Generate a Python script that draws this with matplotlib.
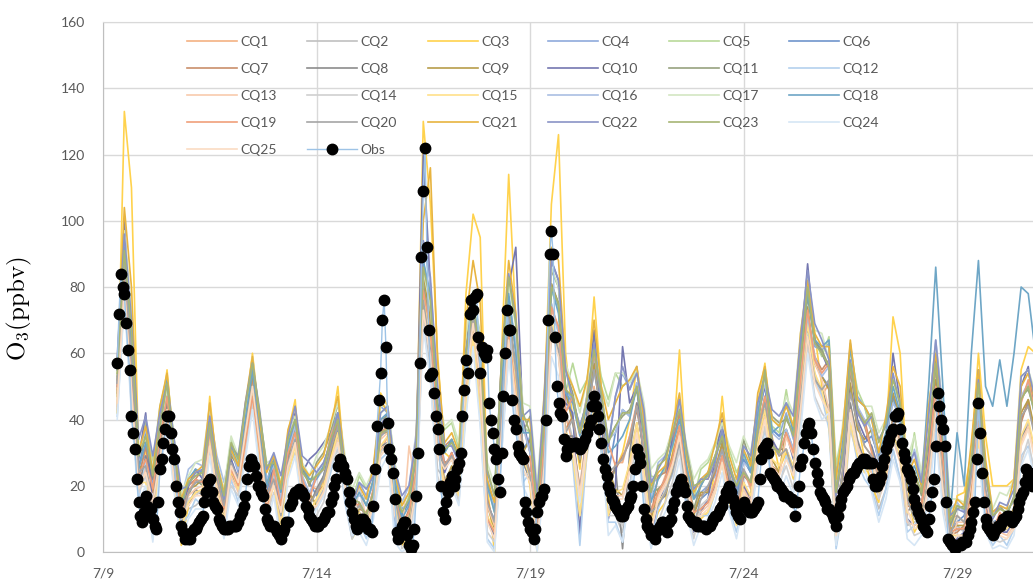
import pandas as pd
import matplotlib
matplotlib.use("Agg")
import matplotlib.pyplot as plt

plt.rcParams['font.family'] = ['Lato', 'DejaVu Sans']
plt.rcParams['mathtext.fontset'] = 'cm'

# time axis
obs_start = '2019-07-09 08:00'    # hourly obs
model_start = '2019-07-09 08:00'  # 4-hourly model output
x_end = '2019-07-30 18:40'
xtick_labels = ['7/9', '7/14', '7/19', '7/24', '7/29']
yticks = [0, 20, 40, 60, 80, 100, 120, 140, 160]

# observed O3 (ppbv), hourly
obs = [57, 72, 84, 80, 78, 69, 61, 55, 41, 36, 31, 22, 15, 11, 9, 12,
       17, 14, 11, 13, 10, 8, 7, 15, 25, 28, 33, 37, 41, 41, 36, 31, 28, 20, 15, 12, 8, 6, 4, 5,
       4, 4, 6, 7, 7, 8, 9, 10, 11, 15, 18, 21, 22, 18, 15, 14, 13, 10, 9, 8, 7, 7, 7, 8,
       8, 8, 8, 8, 9, 11, 12, 14, 17, 22, 26, 28, 27, 26, 23, 20, 20, 18, 17, 13, 10, 9, 8, 8,
       8, 7, 6, 5, 4, 6, 7, 9, 9, 14, 15, 17, 18, 18, 19, 18, 18, 17, 14, 13, 11, 10, 9, 8,
       8, 8, 9, 9, 10, 11, 12, 12, 15, 17, 20, 22, 26, 28, 27, 26, 24, 22, 18, 15, 12, 10, 8, 7,
       8, 10, 10, 9, 8, 7, 7, 6, 14, 25, 38, 46, 54, 70, 76, 62, 39, 31, 28, 24, 16, 6, 4, 6,
       8, 9, 9, 5, 2, 1, 2, 7, 17, 30, 57, 89, 109, 122, 92, 67, 53, 54, 48, 41, 37, 31, 20, 12,
       10, 15, 18, 21, 23, 20, 22, 25, 27, 30, 41, 49, 58, 54, 72, 76, 73, 77, 78, 65, 54, 62, 60, 59,
       61, 45, 40, 36, 31, 28, 22, 18, 30, 47, 60, 73, 67, 67, 46, 40, 37, 32, 30, 29, 28, 15, 12, 9,
       7, 6, 4, 7, 12, 15, 17, 17, 19, 40, 70, 90, 97, 90, 65, 50, 45, 42, 41, 34, 29, 31, 33, 32,
       32, 33, 33, 32, 31, 32, 33, 34, 36, 38, 40, 44, 47, 44, 41, 37, 33, 28, 25, 23, 20, 18, 16, 15,
       14, 13, 12, 11, 11, 12, 13, 14, 16, 17, 20, 25, 31, 29, 27, 20, 13, 10, 8, 7, 5, 5, 4, 6,
       7, 8, 9, 9, 7, 6, 9, 10, 13, 15, 18, 20, 21, 22, 20, 18, 14, 11, 10, 9, 9, 9, 8, 8,
       8, 8, 8, 7, 8, 8, 9, 10, 11, 11, 12, 13, 14, 16, 18, 19, 20, 18, 16, 14, 12, 11, 10, 14,
       15, 14, 13, 12, 12, 12, 13, 14, 15, 22, 28, 31, 32, 33, 30, 24, 23, 22, 21, 20, 20, 19, 18, 17,
       17, 17, 16, 16, 15, 11, 15, 20, 26, 28, 33, 36, 38, 39, 36, 31, 27, 24, 21, 18, 17, 16, 15, 13,
       13, 12, 11, 10, 8, 11, 14, 16, 18, 19, 20, 22, 23, 24, 24, 25, 26, 27, 27, 28, 28, 27, 27, 27,
       27, 22, 20, 20, 21, 23, 26, 28, 31, 33, 34, 36, 37, 41, 41, 42, 37, 33, 30, 28, 25, 24, 22, 19,
       16, 14, 12, 11, 10, 8, 7, 6, 10, 14, 18, 22, 32, 48, 44, 40, 37, 32, 15, 4, 3, 2, 2, 1,
       2, 2, 2, 3, 3, 3, 5, 7, 9, 12, 15, 28, 45, 36, 24, 15, 10, 8, 7, 6, 5, 6, 7, 8,
       8, 9, 10, 10, 11, 11, 10, 9, 10, 11, 13, 15, 17, 18, 21, 25, 23, 22, 20, 24]

# model O3 (ppbv), every 4 h
CQ1 = [49, 86, 60, 23, 31, 19, 34, 44, 28, 11, 16, 17, 19, 35, 18, 9, 26, 23, 38, 52, 33, 16,
       29, 18, 32, 41, 26, 20, 19, 21, 30, 39, 23, 10, 12, 7, 16, 30, 35, 12, 9, 12, 24, 82, 66, 37,
       27, 28, 25, 55, 72, 52, 19, 14, 49, 77, 60, 38, 30, 8, 35, 73, 68, 41, 33, 20, 36, 50, 35, 16,
       27, 27, 35, 45, 29, 13, 17, 23, 29, 38, 21, 11, 22, 22, 29, 36, 25, 19, 25, 19, 38, 45, 33, 29,
       31, 24, 46, 68, 52, 47, 51, 11, 26, 49, 39, 32, 29, 23, 27, 41, 33, 16, 22, 19, 36, 55, 34, 10,
       11, 9, 23, 44, 19, 7, 9, 10, 13, 41, 44, 36]
CQ2 = [45, 82, 52, 21, 27, 13, 30, 41, 24, 8, 13, 14, 16, 32, 15, 6, 24, 19, 33, 48, 30, 13,
       24, 16, 31, 36, 23, 16, 15, 19, 28, 35, 19, 8, 10, 9, 14, 32, 33, 14, 3, 5, 18, 71, 55, 25,
       22, 25, 20, 48, 67, 48, 11, 4, 37, 65, 49, 28, 28, 10, 33, 75, 66, 43, 34, 19, 35, 49, 36, 17,
       11, 6, 20, 34, 17, 5, 14, 18, 24, 33, 18, 8, 14, 16, 21, 30, 17, 10, 24, 20, 37, 46, 32, 30,
       29, 26, 44, 66, 54, 47, 44, 7, 19, 44, 33, 28, 21, 13, 19, 31, 22, 8, 9, 10, 23, 44, 21, 4,
       8, 6, 18, 38, 14, 5, 7, 6, 9, 34, 39, 29]
CQ3 = [42, 133, 110, 30, 30, 22, 40, 55, 30, 2, 14, 18, 18, 47, 25, 8, 24, 20, 42, 60, 40, 14,
       24, 10, 36, 46, 20, 12, 16, 22, 36, 50, 24, 4, 8, 6, 16, 48, 44, 12, 2, 6, 28, 130, 105, 60,
       30, 28, 22, 78, 102, 95, 20, 0, 60, 114, 70, 30, 20, 0, 45, 105, 126, 60, 40, 25, 48, 77, 50, 20,
       25, 30, 40, 56, 35, 5, 12, 15, 30, 61, 25, 6, 10, 12, 25, 47, 25, 10, 18, 15, 45, 57, 35, 25,
       30, 22, 55, 82, 66, 50, 40, 2, 20, 55, 40, 28, 20, 15, 35, 71, 60, 22, 6, 10, 30, 62, 30, 2,
       17, 18, 30, 60, 35, 20, 20, 20, 22, 55, 62, 60]
CQ4 = [55, 94, 64, 27, 29, 21, 32, 46, 26, 13, 21, 23, 24, 40, 25, 17, 31, 24, 40, 56, 37, 22,
       25, 15, 30, 37, 22, 17, 24, 27, 33, 40, 26, 14, 21, 17, 25, 44, 42, 25, 13, 15, 31, 88, 74, 44,
       31, 33, 28, 60, 75, 60, 14, 10, 45, 70, 56, 30, 35, 13, 40, 80, 74, 49, 46, 38, 45, 62, 48, 32,
       47, 54, 49, 56, 41, 21, 22, 25, 32, 41, 26, 16, 18, 20, 23, 33, 21, 14, 28, 24, 41, 50, 37, 35,
       42, 34, 59, 79, 62, 61, 63, 24, 36, 63, 47, 44, 36, 28, 34, 46, 40, 20, 15, 13, 29, 51, 27, 7,
       14, 13, 27, 51, 24, 11, 13, 12, 16, 46, 50, 41]
CQ5 = [53, 92, 66, 29, 39, 27, 44, 53, 34, 17, 22, 24, 23, 41, 24, 18, 34, 27, 43, 57, 41, 25,
       27, 20, 34, 39, 24, 22, 23, 26, 34, 41, 25, 15, 23, 19, 23, 42, 44, 27, 11, 17, 29, 85, 76, 46,
       37, 39, 31, 64, 77, 66, 21, 12, 51, 75, 63, 38, 36, 14, 41, 79, 73, 48, 57, 48, 52, 66, 53, 46,
       54, 50, 52, 54, 43, 23, 22, 25, 32, 41, 26, 16, 25, 27, 32, 37, 31, 24, 29, 25, 42, 55, 38, 36,
       49, 36, 57, 80, 64, 59, 65, 26, 38, 61, 49, 44, 36, 28, 34, 46, 40, 20, 36, 21, 43, 62, 41, 13,
       14, 13, 27, 51, 24, 11, 13, 12, 16, 46, 50, 41]
CQ6 = [51, 89, 57, 25, 36, 23, 37, 48, 31, 14, 18, 21, 21, 37, 22, 14, 28, 21, 36, 50, 35, 18,
       28, 19, 33, 40, 25, 21, 17, 23, 32, 37, 21, 12, 14, 11, 18, 35, 37, 17, 11, 15, 31, 87, 73, 46,
       25, 30, 23, 53, 70, 55, 15, 9, 44, 71, 55, 31, 34, 12, 39, 81, 75, 50, 40, 28, 40, 55, 42, 24,
       36, 43, 41, 51, 37, 16, 18, 22, 28, 37, 22, 12, 16, 18, 25, 31, 23, 16, 28, 24, 41, 50, 37, 35,
       37, 31, 51, 73, 57, 53, 50, 12, 25, 50, 38, 33, 35, 29, 33, 47, 39, 21, 14, 14, 28, 50, 28, 6,
       9, 11, 21, 46, 17, 9, 10, 9, 12, 40, 45, 35]
CQ7 = [48, 87, 59, 22, 32, 18, 35, 46, 29, 10, 20, 22, 25, 39, 26, 16, 27, 21, 38, 53, 32, 18,
       21, 10, 28, 35, 18, 15, 18, 20, 32, 40, 24, 9, 15, 10, 19, 36, 38, 16, 7, 13, 26, 79, 69, 39,
       32, 34, 27, 61, 76, 59, 16, 8, 43, 72, 54, 32, 24, 4, 29, 69, 60, 37, 41, 29, 39, 56, 43, 23,
       25, 29, 33, 43, 31, 11, 23, 24, 33, 42, 25, 17, 17, 19, 24, 32, 22, 15, 21, 15, 33, 43, 26, 24,
       35, 31, 53, 71, 59, 55, 58, 17, 30, 57, 42, 40, 31, 21, 29, 39, 35, 14, 13, 15, 27, 49, 29, 5,
       6, 8, 16, 40, 12, 7, 11, 8, 11, 39, 46, 34]
CQ8 = [47, 84, 50, 19, 29, 22, 32, 45, 26, 12, 14, 19, 17, 33, 20, 11, 23, 20, 34, 47, 31, 12,
       22, 11, 27, 34, 19, 14, 19, 23, 30, 38, 23, 11, 11, 9, 16, 32, 33, 12, 4, 8, 20, 74, 62, 30,
       27, 28, 23, 55, 70, 53, 10, 5, 38, 66, 48, 27, 22, 6, 27, 67, 62, 35, 35, 18, 34, 48, 37, 18,
       26, 1, 30, 45, 29, 12, 15, 17, 25, 34, 19, 9, 13, 15, 20, 29, 18, 11, 23, 21, 36, 47, 31, 31,
       31, 25, 44, 68, 52, 49, 43, 6, 20, 45, 34, 27, 24, 18, 22, 36, 29, 12, 15, 13, 28, 51, 27, 5,
       7, 7, 17, 39, 13, 6, 6, 7, 10, 35, 38, 30]
CQ9 = [52, 90, 60, 26, 25, 15, 31, 43, 22, 10, 19, 20, 22, 38, 21, 13, 29, 26, 42, 54, 39, 20,
       26, 14, 29, 38, 21, 18, 14, 18, 29, 36, 18, 7, 13, 12, 17, 36, 36, 18, 6, 10, 27, 84, 70, 40,
       21, 26, 19, 49, 68, 47, 14, 7, 45, 73, 54, 30, 34, 12, 41, 81, 75, 48, 39, 27, 41, 57, 41, 25,
       19, 17, 27, 39, 23, 9, 19, 21, 29, 38, 23, 11, 18, 18, 25, 33, 21, 14, 19, 17, 31, 43, 28, 24,
       37, 29, 53, 74, 57, 53, 49, 13, 24, 51, 37, 34, 37, 27, 35, 48, 41, 19, 16, 13, 29, 52, 29, 7,
       8, 8, 18, 40, 14, 7, 11, 10, 13, 42, 46, 36]
CQ10 = [55, 100, 60, 28, 42, 12, 35, 50, 25, 8, 20, 25, 22, 42, 20, 10, 28, 22, 40, 58, 35, 12,
        28, 8, 30, 42, 24, 28, 30, 33, 36, 42, 22, 6, 12, 8, 18, 38, 42, 8, 3, 5, 30, 120, 80, 36,
        24, 30, 22, 60, 78, 58, 10, 4, 50, 80, 92, 40, 30, 4, 40, 88, 82, 45, 42, 5, 42, 67, 40, 10,
        20, 62, 45, 50, 28, 4, 14, 20, 35, 46, 20, 6, 12, 16, 28, 40, 22, 10, 20, 15, 44, 50, 34, 30,
        36, 28, 60, 87, 64, 60, 55, 6, 20, 56, 40, 35, 32, 25, 32, 60, 45, 10, 8, 10, 30, 58, 30, 2,
        4, 6, 30, 55, 15, 4, 6, 6, 10, 50, 56, 40]
CQ11 = [56, 92, 63, 29, 34, 25, 39, 50, 29, 16, 17, 22, 20, 36, 23, 15, 30, 26, 40, 54, 39, 21,
        29, 20, 32, 41, 26, 20, 27, 30, 36, 45, 27, 17, 19, 14, 22, 40, 41, 20, 9, 10, 26, 81, 67, 37,
        30, 34, 29, 61, 74, 61, 21, 14, 51, 77, 61, 36, 41, 17, 46, 85, 80, 55, 48, 36, 47, 60, 46, 34,
        38, 41, 43, 49, 35, 18, 19, 21, 27, 36, 23, 13, 20, 24, 29, 34, 27, 19, 34, 27, 45, 53, 41, 39,
        40, 36, 57, 77, 64, 61, 56, 19, 32, 55, 44, 38, 31, 23, 29, 41, 33, 14, 24, 17, 34, 57, 36, 8,
        13, 14, 28, 50, 25, 10, 14, 11, 17, 47, 49, 42]
CQ12 = [41, 77, 45, 16, 27, 4, 29, 41, 24, 8, 11, 16, 14, 30, 17, 6, 22, 15, 31, 44, 27, 9,
        23, 3, 26, 35, 20, 13, 13, 17, 24, 33, 15, 4, 9, 4, 13, 28, 30, 7, 4, 6, 22, 76, 60, 32,
        18, 21, 17, 42, 65, 40, 4, 1, 32, 60, 42, 21, 24, 4, 27, 69, 62, 35, 27, 2, 31, 44, 30, 9,
        9, 3, 20, 32, 19, 3, 13, 19, 23, 34, 17, 7, 11, 11, 18, 27, 13, 6, 16, 13, 28, 36, 23, 19,
        29, 24, 46, 66, 52, 47, 37, 1, 14, 39, 27, 22, 19, 11, 19, 31, 22, 6, 8, 11, 22, 45, 20, 3,
        3, 5, 13, 34, 7, 2, 5, 2, 7, 29, 32, 24]
CQ13 = [44, 81, 50, 18, 25, 12, 29, 40, 22, 7, 17, 19, 20, 36, 21, 12, 23, 18, 32, 49, 29, 11,
        21, 9, 26, 33, 18, 12, 14, 18, 27, 34, 18, 6, 20, 10, 17, 34, 36, 15, 4, 32, 20, 74, 60, 30,
        21, 24, 19, 47, 66, 47, 14, 8, 43, 70, 54, 30, 22, 4, 27, 67, 60, 35, 33, 18, 34, 48, 35, 15,
        17, 17, 25, 37, 23, 7, 17, 21, 27, 36, 21, 10, 12, 14, 19, 28, 17, 9, 19, 15, 31, 41, 26, 23,
        35, 29, 51, 71, 57, 52, 43, 5, 18, 43, 32, 27, 24, 16, 22, 34, 27, 9, 8, 9, 22, 43, 20, 2,
        9, 9, 21, 44, 17, 6, 6, 5, 8, 33, 38, 28]
CQ14 = [43, 79, 43, 18, 23, 7, 28, 38, 21, 5, 16, 17, 19, 33, 18, 9, 20, 17, 29, 46, 25, 11,
        18, 6, 25, 30, 17, 10, 11, 15, 26, 31, 17, 4, 20, 7, 14, 30, 33, 14, 1, 3, 16, 69, 53, 23,
        16, 23, 15, 44, 63, 42, 6, 3, 30, 62, 40, 23, 24, 6, 29, 67, 60, 37, 29, 11, 29, 42, 32, 11,
        11, 8, 18, 34, 19, 5, 9, 15, 21, 31, 15, 4, 14, 16, 21, 28, 19, 10, 18, 11, 26, 38, 21, 21,
        26, 19, 39, 63, 47, 42, 39, 3, 12, 37, 29, 24, 26, 16, 24, 34, 29, 10, 5, 6, 17, 39, 15, 2,
        5, 3, 11, 32, 9, 4, 3, 4, 7, 27, 34, 22]
CQ15 = [47, 85, 53, 21, 21, 9, 26, 40, 19, 7, 15, 18, 19, 35, 19, 10, 25, 19, 34, 49, 30, 14,
        20, 8, 23, 32, 15, 12, 16, 20, 28, 36, 20, 9, 12, 8, 15, 32, 35, 14, 6, 8, 22, 77, 63, 33,
        18, 22, 17, 44, 65, 42, 11, 6, 39, 67, 49, 28, 23, 6, 29, 70, 62, 37, 29, 11, 31, 44, 32, 11,
        18, 19, 27, 39, 25, 9, 15, 18, 25, 34, 19, 9, 11, 12, 18, 27, 15, 8, 21, 17, 33, 43, 28, 26,
        31, 26, 46, 69, 54, 49, 39, 3, 14, 39, 29, 24, 26, 18, 24, 36, 29, 12, 10, 11, 24, 45, 22, 5,
        5, 5, 13, 34, 9, 4, 8, 7, 10, 35, 40, 30]
CQ16 = [55, 95, 66, 30, 37, 25, 39, 50, 31, 16, 25, 27, 26, 42, 29, 21, 31, 25, 42, 56, 37, 22,
        26, 16, 31, 38, 23, 18, 22, 25, 35, 42, 24, 16, 17, 16, 20, 38, 39, 22, 15, 20, 36, 93, 81, 51,
        32, 32, 29, 59, 76, 59, 19, 14, 49, 77, 63, 38, 30, 10, 35, 75, 66, 43, 46, 36, 47, 62, 48, 34,
        36, 43, 41, 51, 37, 16, 27, 29, 37, 45, 31, 19, 22, 24, 29, 36, 25, 21, 27, 25, 42, 51, 36, 34,
        37, 31, 53, 71, 59, 53, 56, 19, 30, 57, 44, 40, 37, 27, 35, 45, 41, 21, 31, 23, 41, 64, 43, 13,
        15, 12, 28, 52, 23, 12, 14, 13, 15, 47, 51, 40]
CQ17 = [57, 97, 73, 32, 34, 26, 37, 49, 32, 17, 23, 27, 28, 44, 27, 19, 35, 29, 43, 59, 41, 27,
        28, 21, 34, 41, 27, 23, 29, 32, 38, 45, 29, 19, 24, 20, 25, 44, 44, 27, 14, 18, 32, 85, 74, 47,
        38, 40, 33, 66, 79, 64, 27, 20, 56, 81, 68, 45, 44, 20, 48, 86, 80, 57, 50, 42, 52, 60, 50, 44,
        54, 54, 51, 55, 45, 25, 28, 30, 37, 45, 32, 22, 26, 28, 33, 39, 32, 27, 35, 30, 44, 52, 40, 38,
        47, 42, 66, 83, 67, 66, 58, 20, 40, 57, 46, 44, 44, 36, 40, 50, 45, 28, 35, 24, 43, 62, 44, 16,
        16, 15, 29, 50, 26, 13, 18, 17, 22, 53, 55, 48]
CQ18 = [50, 92, 60, 25, 33, 24, 38, 52, 30, 14, 22, 25, 24, 40, 24, 16, 32, 26, 40, 55, 38, 20,
        28, 18, 32, 40, 26, 22, 22, 26, 34, 42, 26, 14, 18, 14, 22, 40, 42, 22, 10, 14, 30, 88, 78, 45,
        30, 34, 28, 60, 76, 60, 20, 12, 50, 78, 60, 36, 36, 12, 40, 80, 72, 48, 45, 35, 44, 60, 46, 30,
        32, 35, 40, 50, 35, 15, 22, 26, 32, 40, 26, 16, 20, 24, 28, 36, 26, 18, 30, 24, 42, 54, 36, 38,
        45, 36, 60, 78, 64, 62, 64, 18, 34, 62, 46, 44, 40, 30, 36, 50, 42, 22, 26, 20, 50, 86, 50, 10,
        36, 20, 60, 88, 50, 44, 58, 44, 60, 80, 78, 60]
CQ19 = [50, 85, 56, 23, 28, 19, 34, 47, 27, 11, 18, 22, 21, 36, 23, 13, 25, 20, 33, 47, 31, 13,
        25, 14, 30, 36, 22, 16, 23, 25, 35, 41, 26, 15, 14, 11, 19, 35, 38, 17, 8, 12, 25, 79, 67, 38,
        26, 30, 24, 53, 71, 53, 10, 6, 38, 67, 47, 27, 29, 9, 33, 74, 68, 42, 47, 36, 46, 60, 47, 33,
        26, 28, 35, 44, 31, 12, 18, 22, 28, 38, 22, 12, 13, 15, 21, 29, 19, 11, 24, 20, 37, 47, 32, 30,
        36, 30, 52, 73, 58, 54, 57, 18, 31, 56, 43, 39, 30, 22, 28, 40, 34, 15, 14, 14, 28, 50, 28, 6,
        7, 7, 17, 39, 13, 6, 12, 9, 12, 45, 52, 42]
CQ20 = [51, 87, 58, 24, 26, 14, 31, 42, 23, 9, 18, 21, 22, 37, 22, 14, 27, 22, 37, 50, 34, 17,
        22, 11, 27, 34, 20, 14, 18, 22, 31, 38, 22, 11, 14, 11, 18, 35, 37, 17, 5, 7, 21, 76, 61, 31,
        26, 29, 24, 54, 71, 54, 15, 9, 44, 71, 55, 31, 23, 5, 28, 68, 61, 36, 40, 28, 40, 55, 42, 24,
        26, 28, 34, 44, 30, 12, 14, 18, 24, 33, 18, 8, 16, 20, 25, 31, 23, 14, 25, 21, 36, 45, 33, 29,
        31, 24, 46, 65, 52, 49, 52, 11, 26, 48, 39, 32, 29, 21, 29, 39, 35, 16, 10, 9, 24, 43, 22, 5,
        11, 9, 23, 46, 19, 9, 9, 10, 11, 41, 44, 34]
CQ21 = [56, 104, 80, 30, 38, 24, 44, 54, 32, 16, 22, 24, 26, 45, 27, 18, 31, 26, 45, 59, 40, 24,
        29, 20, 37, 44, 26, 23, 26, 29, 39, 47, 26, 15, 20, 16, 26, 46, 42, 24, 14, 18, 34, 100, 116, 58,
        33, 36, 30, 70, 88, 75, 22, 15, 58, 88, 72, 40, 40, 14, 48, 92, 88, 55, 50, 44, 52, 70, 50, 40,
        45, 50, 52, 56, 40, 20, 24, 26, 38, 48, 29, 18, 22, 24, 33, 42, 29, 22, 31, 26, 48, 56, 40, 38,
        44, 38, 66, 82, 66, 62, 62, 22, 38, 64, 46, 44, 40, 30, 41, 56, 50, 23, 28, 20, 44, 60, 40, 10,
        16, 14, 33, 55, 28, 12, 14, 13, 22, 50, 54, 45]
CQ22 = [59, 96, 70, 34, 41, 29, 42, 51, 34, 19, 20, 24, 25, 41, 26, 16, 32, 29, 45, 57, 43, 25,
        30, 23, 35, 44, 29, 27, 24, 27, 33, 42, 26, 14, 21, 19, 23, 42, 44, 25, 17, 20, 34, 94, 83, 50,
        32, 32, 27, 61, 74, 61, 24, 17, 58, 84, 70, 41, 43, 17, 46, 88, 82, 55, 46, 38, 45, 63, 46, 32,
        47, 56, 49, 54, 43, 21, 25, 29, 35, 46, 31, 19, 22, 22, 27, 37, 25, 19, 32, 29, 45, 53, 43, 41,
        45, 41, 64, 85, 69, 64, 58, 17, 30, 58, 42, 38, 41, 34, 38, 54, 44, 26, 30, 21, 41, 64, 41, 11,
        13, 12, 26, 52, 23, 10, 15, 14, 19, 53, 55, 46]
CQ23 = [54, 91, 67, 29, 35, 23, 38, 51, 30, 15, 21, 23, 24, 39, 25, 17, 33, 28, 44, 57, 42, 26,
        27, 19, 34, 40, 24, 21, 23, 25, 34, 40, 25, 16, 15, 11, 18, 36, 37, 18, 12, 16, 29, 86, 76, 44,
        31, 33, 29, 60, 74, 60, 25, 17, 57, 83, 69, 42, 36, 13, 39, 80, 75, 49, 47, 36, 46, 61, 48, 33,
        38, 42, 42, 50, 36, 18, 26, 28, 36, 43, 30, 20, 21, 23, 29, 35, 26, 20, 24, 21, 37, 55, 32, 30,
        41, 35, 58, 80, 63, 60, 56, 18, 31, 57, 43, 39, 42, 33, 39, 52, 45, 25, 24, 18, 35, 57, 35, 9,
        14, 13, 27, 51, 24, 11, 13, 12, 16, 46, 50, 41]
CQ24 = [40, 76, 42, 15, 20, 3, 25, 37, 18, 3, 10, 13, 13, 29, 14, 4, 19, 14, 28, 43, 24, 7,
        17, 2, 22, 29, 14, 8, 13, 17, 26, 33, 17, 5, 6, 2, 10, 25, 29, 3, 0, 2, 15, 68, 52, 20,
        15, 20, 14, 41, 62, 38, 3, 0, 29, 59, 39, 20, 15, 0, 21, 59, 53, 28, 32, 15, 33, 47, 34, 5,
        8, 3, 17, 31, 16, 1, 8, 12, 18, 28, 12, 2, 8, 10, 15, 24, 12, 4, 15, 10, 25, 35, 20, 17,
        23, 17, 36, 60, 46, 40, 42, 2, 17, 42, 31, 25, 18, 9, 16, 28, 21, 4, 2, 5, 16, 36, 12, 0,
        2, 2, 10, 31, 6, 1, 2, 1, 5, 26, 31, 21]
CQ25 = [45, 80, 49, 19, 24, 15, 28, 43, 21, 10, 14, 17, 17, 32, 18, 8, 26, 21, 36, 50, 33, 15,
        20, 12, 26, 33, 17, 13, 14, 18, 27, 33, 20, 7, 10, 7, 14, 29, 32, 11, 4, 6, 19, 73, 59, 29,
        25, 28, 22, 52, 69, 52, 9, 4, 36, 64, 46, 25, 21, 3, 26, 66, 59, 34, 32, 17, 33, 47, 34, 15,
        16, 16, 24, 36, 22, 6, 16, 20, 26, 35, 20, 10, 11, 13, 18, 27, 16, 9, 18, 14, 30, 40, 25, 23,
        28, 23, 43, 65, 51, 46, 42, 5, 17, 42, 31, 26, 28, 20, 26, 38, 32, 13, 7, 8, 21, 42, 19, 2,
        5, 5, 15, 37, 11, 4, 5, 4, 7, 32, 37, 27]

models = {'CQ1': CQ1, 'CQ2': CQ2, 'CQ3': CQ3, 'CQ4': CQ4, 'CQ5': CQ5, 'CQ6': CQ6,
          'CQ7': CQ7, 'CQ8': CQ8, 'CQ9': CQ9, 'CQ10': CQ10, 'CQ11': CQ11, 'CQ12': CQ12,
          'CQ13': CQ13, 'CQ14': CQ14, 'CQ15': CQ15, 'CQ16': CQ16, 'CQ17': CQ17, 'CQ18': CQ18,
          'CQ19': CQ19, 'CQ20': CQ20, 'CQ21': CQ21, 'CQ22': CQ22, 'CQ23': CQ23, 'CQ24': CQ24,
          'CQ25': CQ25}

colors = {'CQ1': '#f4b183', 'CQ2': '#c0c0c0', 'CQ3': '#ffd24d', 'CQ4': '#8faadc', 'CQ5': '#b9d99a',
          'CQ6': '#6f95cc', 'CQ7': '#c98f6b', 'CQ8': '#8c8c8c', 'CQ9': '#b89d4a', 'CQ10': '#7477b0',
          'CQ11': '#97a27f', 'CQ12': '#b4d1ee', 'CQ13': '#f8cbad', 'CQ14': '#d0d0d0', 'CQ15': '#ffe08a',
          'CQ16': '#aabfe3', 'CQ17': '#d3e6c2', 'CQ18': '#6ea6c6', 'CQ19': '#f0a07a', 'CQ20': '#a5a5a5',
          'CQ21': '#e8b440', 'CQ22': '#8a94c6', 'CQ23': '#a7b574', 'CQ24': '#d6e6f5', 'CQ25': '#fbdcc2'}

grid_c = '#d9d9d9'
text_c = '#595959'

fig = plt.figure(figsize=(10.33, 5.86), dpi=100)
ax = fig.add_axes([0.0997, 0.058, 0.9003, 0.9044])

handles = {}
for name, vals in models.items():
    t = pd.date_range(model_start, periods=len(vals), freq='4h')
    handles[name], = ax.plot(t, vals, color=colors[name], lw=1.2, zorder=2)

t_obs = pd.date_range(obs_start, periods=len(obs), freq='h')
handles['Obs'], = ax.plot(t_obs, obs, color='#9dc3e6', lw=1.0, marker='o', ms=7.5,
                          mfc='black', mec='black', zorder=3)

xticks = pd.to_datetime(['2019/' + s for s in xtick_labels])
ax.set_xticks(xticks)
ax.set_xticklabels(xtick_labels)
ax.set_xlim(pd.Timestamp('2019-07-09'), pd.Timestamp(x_end))
ax.set_yticks(yticks)
ax.set_ylim(0, 160)

ax.grid(True, color=grid_c, lw=1)
ax.set_axisbelow(True)
ax.tick_params(length=0, labelsize=10, labelcolor=text_c)
ax.tick_params(axis='y', pad=13)
ax.tick_params(axis='x', pad=11)
ax.spines['right'].set_visible(False)
ax.spines['top'].set_color(grid_c)
ax.spines['left'].set_color('#bfbfbf')
ax.spines['bottom'].set_color('#bfbfbf')

fig.text(0.019, 0.473, r'$\mathrm{O_3(ppbv)}$', rotation=90, fontsize=18, ha='center', va='center')

# Excel fills the legend row by row, matplotlib column by column
order = ['CQ1', 'CQ7', 'CQ13', 'CQ19', 'CQ25', 'CQ2', 'CQ8', 'CQ14', 'CQ20', 'Obs',
         'CQ3', 'CQ9', 'CQ15', 'CQ21', 'CQ4', 'CQ10', 'CQ16', 'CQ22',
         'CQ5', 'CQ11', 'CQ17', 'CQ23', 'CQ6', 'CQ12', 'CQ18', 'CQ24']
leg = ax.legend([handles[k] for k in order], order, ncol=6, loc='upper left',
                bbox_to_anchor=(0.09, 0.973), frameon=False, fontsize=10,
                handlelength=3.6, handletextpad=0.25, columnspacing=2.2,
                labelspacing=1.07, borderaxespad=0, borderpad=0)
for txt in leg.get_texts():
    txt.set_color(text_c)

fig.savefig('out.png', dpi=100)
